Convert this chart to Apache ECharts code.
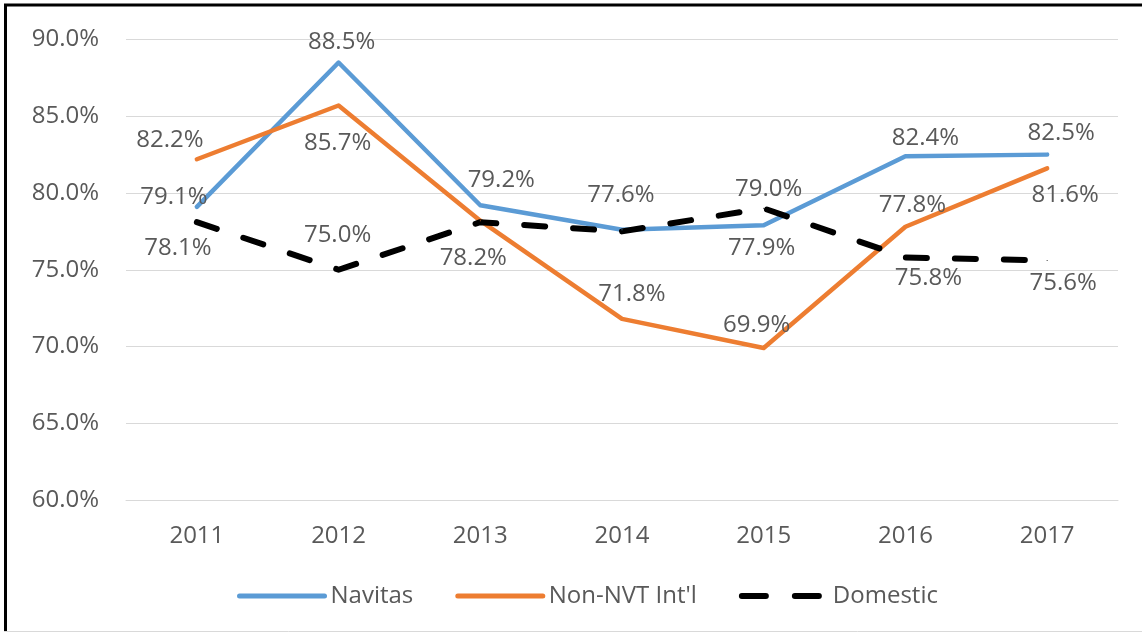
<!DOCTYPE html>
<html>
<head>
<meta charset="utf-8">
<script src="https://cdn.jsdelivr.net/npm/echarts@6/dist/echarts.min.js"></script>
<style>
  html, body { margin: 0; padding: 0; background: #fff; }
  #chart { width: 1142px; height: 633px; }
</style>
</head>
<body>
<div id="chart"></div>
<script>
const years = ['2011', '2012', '2013', '2014', '2015', '2016', '2017'];
const navitas = [79.1, 88.5, 79.2, 77.6, 77.9, 82.4, 82.5];
const nonNvtIntl = [82.2, 85.7, 78.2, 71.8, 69.9, 77.8, 81.6];
const domestic = [78.1, 75.0, 78.1, 77.5, 79.0, 75.8, 75.6];

// where each data label sits, relative to its point (null = no label)
const navitasLabelAt = [[-23, -10], [3, -20], [21, -25], [-1, -35], [-2, 23], [20, -18], [14, -21]];
const nonNvtLabelAt = [[-27, -19], [-1, 38], [-7, 38], [10, -25], [-7, -23], [7, -22], [18, 27]];
const domesticLabelAt = [[-19, 26], [-1, -35], null, null, [5, -19], [23, 21], [16, 23]];

const textColor = '#595959';
const font = '"Open Sans", sans-serif';

function withLabels(values, places) {
    return values.map((v, i) => {
        const p = places[i];
        if (!p) return { value: v, label: { show: false } };
        return { value: v, label: { show: true, position: 'inside', offset: p } };
    });
}

function lineSeries(name, values, places, color, width, dash) {
    return {
        name: name,
        type: 'line',
        data: withLabels(values, places),
        symbol: 'circle',
        symbolSize: 1,
        itemStyle: { color: color },
        lineStyle: { color: color, width: width, type: dash || 'solid', cap: 'round', join: 'round' },
        label: {
            color: textColor,
            fontFamily: font,
            fontSize: 24,
            formatter: p => p.value.toFixed(1) + '%'
        },
        emphasis: { disabled: true },
        animation: false
    };
}

const chart = echarts.init(document.getElementById('chart'));

chart.setOption({
    backgroundColor: '#fff',
    animation: false,
    grid: { left: 126, right: 24, top: 39.5, bottom: 133, containLabel: false },
    xAxis: {
        type: 'category',
        data: years,
        boundaryGap: true,
        axisLine: { lineStyle: { color: '#d9d9d9', width: 1 } },
        axisTick: { show: false },
        axisLabel: { color: textColor, fontFamily: font, fontSize: 24, margin: 24 }
    },
    yAxis: {
        type: 'value',
        min: 60,
        max: 90,
        interval: 5,
        axisLine: { show: false },
        axisTick: { show: false },
        splitLine: { lineStyle: { color: '#d9d9d9', width: 1 } },
        axisLabel: {
            color: textColor, fontFamily: font, fontSize: 24, margin: 27,
            formatter: v => v.toFixed(1) + '%'
        }
    },
    legend: {
        left: 232,
        top: 579,
        itemWidth: 85,
        itemHeight: 24,
        itemGap: 42,
        textStyle: { color: textColor, fontFamily: font, fontSize: 24, padding: [0, 0, 0, 1] },
        itemStyle: { opacity: 0 },
        data: [
            { name: 'Navitas', lineStyle: { width: 5, cap: 'round' } },
            { name: "Non-NVT Int'l", lineStyle: { width: 5, cap: 'round' } },
            { name: 'Domestic', lineStyle: { width: 6, cap: 'round', type: [24, 29] } }
        ]
    },
    graphic: [
        { type: 'line', shape: { x1: 4, y1: 5, x2: 1142, y2: 5 }, style: { stroke: '#000', lineWidth: 3 }, silent: true },
        { type: 'line', shape: { x1: 5.5, y1: 4, x2: 5.5, y2: 632 }, style: { stroke: '#000', lineWidth: 3 }, silent: true },
        { type: 'line', shape: { x1: 4, y1: 631.5, x2: 1142, y2: 631.5 }, style: { stroke: '#d9d9d9', lineWidth: 1 }, silent: true }
    ],
    series: [
        lineSeries('Navitas', navitas, navitasLabelAt, '#5b9bd5', 4.5),
        lineSeries("Non-NVT Int'l", nonNvtIntl, nonNvtLabelAt, '#ed7d31', 4.5),
        lineSeries('Domestic', domestic, domesticLabelAt, '#000000', 6, [21, 28])
    ]
});
</script>
</body>
</html>
